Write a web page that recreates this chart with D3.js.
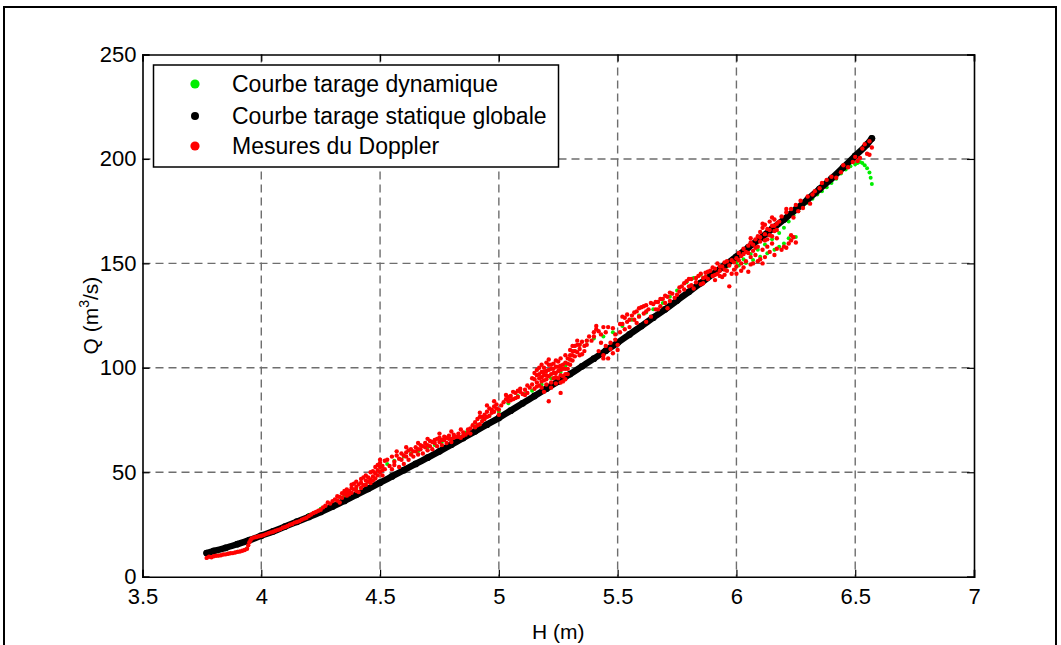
<!DOCTYPE html>
<html>
<head>
<meta charset="UTF-8" />
<script src="https://d3js.org/d3.v7.min.js"></script>
<title>Courbes de tarage</title>
<style>
  body { margin: 0; background: #fff; }
  svg { display: block; font-family: "Liberation Sans", Arial, sans-serif; }
</style>
</head>
<body>
<svg id="chart" width="1061" height="645"></svg>
<script>
// axis ticks
const xTicks = [3.5, 4, 4.5, 5, 5.5, 6, 6.5, 7];
const yTicks = [0, 50, 100, 150, 200, 250];

// legend labels (draw order: green, black, red)
const seriesNames = ["Courbe tarage dynamique", "Courbe tarage statique globale", "Mesures du Doppler"];
const seriesColors = ["#00ee00", "#000000", "#ff0000"];

// static rating curve [H, Q]
const statique = [
  [3.77,11.3],[3.80,12.3],[3.85,13.8],[3.90,15.6],[3.95,17.5],[4.00,19.6],[4.05,21.7],[4.10,24],
  [4.15,26.3],[4.20,28.6],[4.25,31],[4.30,33.6],[4.35,36.3],[4.40,39.2],[4.45,42.1],[4.50,45],
  [4.55,48],[4.60,51],[4.65,54],[4.70,57],[4.75,60],[4.80,63.2],[4.85,66.4],[4.90,69.6],
  [4.95,72.8],[5.00,76],[5.05,79.5],[5.10,83],[5.15,86.5],[5.20,90],[5.25,93.5],[5.30,97],
  [5.35,100.7],[5.40,104.4],[5.45,108.2],[5.50,112],[5.55,116],[5.60,120],[5.65,124],[5.70,128],
  [5.75,132.2],[5.80,136.4],[5.85,140.6],[5.90,144.8],[5.95,149],[6.00,153.2],[6.05,157.6],[6.10,162],
  [6.15,166.5],[6.20,171],[6.25,175.8],[6.30,180.6],[6.35,185.6],[6.40,190.6],[6.45,196],[6.50,201.5],
  [6.55,207],[6.57,209.8]
];

// dynamic rating curve [H, Q]
const dynamique = [
  [3.78,9.5],[3.82,10.2],[3.86,11],[3.90,12],[3.94,13.5],[3.96,18],[4.00,19.8],[4.05,21.6],
  [4.10,24],[4.15,26.5],[4.20,29.5],[4.25,32.5],[4.30,35.5],[4.35,39],[4.40,42],[4.45,45.5],
  [4.50,50.5],[4.53,54],[4.56,55.5],[4.60,57.5],[4.63,59],[4.66,60],[4.70,62],[4.73,63],
  [4.76,64.5],[4.80,66],[4.83,67.5],[4.86,69],[4.90,72],[4.93,74.5],[4.96,77],[5.00,79],
  [5.04,83],[5.08,86.5],[5.11,87.5],[5.14,89],[5.18,92],[5.22,95],[5.26,98],[5.28,101],
  [5.30,104],[5.32,108],[5.34,111],[5.37,113],[5.40,114],[5.44,115],[5.48,117],[5.52,120],
  [5.56,123],[5.59,125],[5.62,126.5],[5.65,128],[5.69,131],[5.72,134],[5.75,137],[5.79,141],
  [5.82,143],[5.85,144.5],[5.88,145.5],[5.92,147],[5.96,148.5],[6.00,150.5],[6.03,152],[6.06,154.5],
  [6.09,156.5],[6.12,159],[6.15,161.5],[6.18,164.5],[6.20,167],[6.22,170],[6.24,173],[6.26,175],
  [6.28,177],[6.30,179],[6.32,181],[6.34,183],[6.36,184.5],[6.38,186.5],[6.40,188.5],[6.42,190.5],
  [6.44,193],[6.46,195],[6.48,196.5],[6.50,197.5],[6.51,198],[6.52,198.5],[6.53,198],[6.54,197],
  [6.55,195.5],[6.56,193.5],[6.565,191],[6.57,188],
  [6.01,149],[6.04,150.2],[6.07,151.6],[6.10,153.2],[6.13,154.8],[6.16,156.5],[6.18,158],[6.20,159.5],
  [6.22,162],[6.24,162.5],[6.25,162.6]
];

// Doppler measurements [H, Q]
const doppler = [
  [3.77,9.0],[3.78,9.6],[3.79,9.3],[3.80,9.8],[3.81,10.0],[3.82,10.1],[3.83,10.3],[3.84,10.6],
  [3.85,10.7],[3.86,11.0],[3.87,11.2],[3.88,11.3],[3.89,11.6],[3.90,11.9],[3.91,12.1],[3.92,12.4],
  [3.93,12.8],[3.94,13.4],[3.945,15.0],[3.95,16.5],[3.955,17.6],[3.96,18.3],[3.97,18.8],[3.98,19.0],
  [3.99,19.4],[4.00,19.6],[4.01,19.9],[4.02,20.4],[4.03,20.8],[4.04,21.2],[4.05,21.5],[4.06,22.0],
  [4.07,22.4],[4.08,22.8],[4.09,23.4],[4.10,23.8],[4.11,24.3],[4.12,24.9],[4.13,25.2],[4.14,25.9],
  [4.15,26.2],[4.16,26.6],[4.17,27.3],[4.18,27.8],[4.19,28.2],[4.20,29.0],[4.21,29.8],[4.22,30.5],
  [4.23,31.0],[4.24,31.6],[4.25,32.0],[4.26,33.2],[4.27,34.0],[4.28,35.5],[4.29,35.0],[4.30,36.2],
  [4.31,37.0],[4.32,36.5],[4.33,38.2],[4.34,37.8],[4.35,39.5],[4.36,40.5],[4.36,38.8],[4.37,41.0],
  [4.38,40.2],[4.38,42.5],[4.39,41.8],[4.40,43.0],[4.40,41.0],[4.41,44.2],[4.42,42.5],[4.42,45.0],
  [4.43,43.8],[4.44,46.0],[4.44,44.0],[4.45,45.5],[4.45,47.5],[4.46,46.5],[4.46,44.8],[4.47,48.0],
  [4.47,46.0],[4.48,49.5],[4.48,47.0],[4.49,51.0],[4.49,48.5],[4.50,52.5],[4.50,54.5],[4.50,50.0],
  [4.51,53.0],[4.51,48.5],[4.52,55.5],[4.52,51.5],[4.33,35.5],[4.41,40.5],
  [4.32,38.5],[4.34,40],[4.36,41.8],[4.38,44],[4.40,45.5],[4.42,46.8],[4.44,48.5],[4.46,50],
  [4.48,52.5],[4.49,53.5],[4.50,56],[4.51,51],[4.47,50.5],[4.43,47.5],[4.39,44.5],[4.37,39.5],[4.35,41],
  [4.53,56.0],[4.54,53.0],[4.55,57.5],[4.55,51.5],[4.56,55.0],[4.57,58.0],[4.58,56.5],[4.58,52.5],
  [4.59,59.0],[4.60,58.0],[4.60,54.0],[4.61,59.5],[4.62,60.5],[4.62,56.0],[4.63,61.0],[4.64,60.0],
  [4.64,57.5],[4.65,62.0],[4.66,61.0],[4.66,58.5],[4.67,63.0],[4.68,62.5],[4.68,59.0],[4.69,64.0],
  [4.70,63.0],[4.70,60.5],[4.71,65.0],[4.72,64.5],[4.72,61.0],[4.73,65.5],[4.74,66.0],[4.74,62.5],
  [4.75,66.5],[4.76,65.5],[4.76,63.0],[4.77,67.0],[4.78,66.5],[4.78,64.0],[4.79,67.5],[4.80,66.0],
  [4.80,64.5],[4.81,68.0],[4.82,67.0],[4.83,68.5],[4.84,66.5],[4.85,69.0],[4.86,68.0],[4.87,70.5],
  [4.88,71.0],[4.88,68.5],
  [4.56,53.5],[4.59,56],[4.61,57.5],[4.63,58.5],[4.65,60],[4.67,61],[4.69,62],[4.71,62.5],
  [4.73,64],[4.75,64.5],[4.77,65.5],[4.79,66],[4.81,66.5],[4.83,67],[4.85,67.5],[4.87,69],
  [4.57,60],[4.61,62],[4.66,64],[4.70,66],[4.75,68.5],[4.80,69.5],[4.84,70.5],
  [4.89,72.5],[4.90,74.0],[4.90,71.5],[4.91,75.5],[4.92,73.0],[4.92,76.5],[4.93,74.5],[4.94,77.5],
  [4.94,75.5],[4.95,79.0],[4.96,77.0],[4.96,80.5],[4.97,78.5],[4.98,81.5],[4.98,79.0],[4.99,82.5],
  [5.00,80.0],[5.00,77.5],
  [4.91,72.5],[4.93,76.5],[4.95,76.5],[4.97,80],[4.99,80.5],[4.95,82],[4.98,84],[4.92,78.5],
  [5.02,83.5],[5.03,85.0],[5.04,84.0],[5.05,86.5],[5.06,85.0],[5.07,88.0],[5.08,86.0],[5.09,88.5],
  [5.10,87.5],[5.11,89.5],[5.12,88.0],[5.13,90.5],[5.14,92.0],[5.15,90.0],[5.15,94.5],[5.16,93.0],
  [5.16,96.5],[5.17,91.5],[5.17,95.0],[5.18,98.0],[5.18,93.5],[5.19,96.5],[5.19,100.0],[5.20,94.5],
  [5.20,98.5],[5.21,101.5],[5.21,96.0],[5.22,99.5],[5.22,93.0],[5.23,97.5],[5.23,102.0],[5.24,100.5],
  [5.24,95.5],[5.25,98.5],[5.25,103.0],[5.26,101.0],[5.26,96.5],[5.27,99.5],[5.27,93.5],[5.28,102.5],
  [5.28,97.0],[5.29,104.5],[5.29,99.5],[5.30,106.0],[5.30,101.5],[5.31,108.0],[5.31,103.5],[5.32,110.5],
  [5.32,105.5],[5.33,107.5],[5.33,111.0],[5.34,109.0],[5.35,112.5],[5.35,106.5],[5.36,110.5],[5.37,113.0],
  [5.38,115.0],[5.40,117.0],[5.41,118.5],[5.43,116.0],[5.44,119.5],[5.21,84.0],[5.26,88.0],[5.19,88.5],
  [5.01,82],[5.03,87],[5.05,84.5],[5.07,85.5],[5.09,90],[5.11,87],[5.12,91.5],[5.06,88.5],[5.08,89],[5.04,86],
  [5.14,95],[5.15,97.5],[5.16,99],[5.17,97],[5.17,100],[5.18,95.5],[5.18,101.5],[5.19,94],
  [5.19,98],[5.20,92],[5.20,96.5],[5.20,102.5],[5.21,99],[5.21,104],[5.22,97],[5.22,101.5],
  [5.23,95],[5.23,99.5],[5.24,92.5],[5.24,97.5],[5.24,103.5],[5.25,95],[5.25,100.5],[5.26,93],
  [5.26,99],[5.26,104.5],[5.27,96],[5.27,101.5],[5.28,94.5],[5.28,99.5],[5.28,106],[5.29,97],
  [5.29,102],[5.30,104],[5.30,108.5],[5.31,106],[5.31,110.5],[5.32,108],[5.33,113],[5.34,111],
  [5.34,106],[5.36,108],[5.37,111],[5.16,91],[5.18,90.5],[5.22,90.5],
  [5.42,108.0],[5.44,106.0],[5.45,110.5],[5.46,104.5],[5.47,112.0],[5.48,107.0],[5.49,113.5],[5.50,111.0],
  [5.48,119.0],[5.51,117.0],
  [5.39,113],[5.40,115],[5.42,117.5],[5.45,117],[5.46,119.5],[5.43,112],[5.47,109],[5.50,108.5],
  [5.49,116],[5.41,120],[5.44,104.5],
  [5.52,121.0],[5.53,118.5],[5.53,124.0],[5.54,122.0],[5.55,119.5],[5.56,125.0],[5.57,123.0],[5.58,127.0],
  [5.59,124.5],[5.60,129.0],[5.61,126.0],[5.62,130.0],[5.63,128.0],[5.64,124.5],[5.65,130.5],[5.66,128.0],
  [5.67,131.5],[5.68,129.5],[5.69,133.0],[5.70,131.0],[5.71,134.0],[5.72,132.0],[5.73,135.5],[5.74,133.5],
  [5.76,136.5],[5.77,139.0],[5.78,137.5],[5.79,141.5],[5.80,139.0],[5.81,142.5],[5.82,138.0],[5.83,141.0],
  [5.84,144.0],[5.85,140.0],[5.86,143.0],[5.87,145.5],[5.88,142.5],[5.89,146.5],[5.90,144.0],[5.91,147.5],
  [5.92,145.0],[5.93,148.5],
  [5.51,121],[5.52,124.5],[5.54,125.5],[5.55,123],[5.57,126.5],[5.58,121.5],[5.59,128.5],[5.61,129.5],
  [5.62,127],[5.64,131],[5.66,131.5],[5.67,128],[5.68,133],[5.70,134.5],[5.72,136],[5.75,135],
  [5.76,138.5],[5.78,140.5],[5.80,142.5],[5.81,139.5],[5.83,143],[5.85,145],[5.86,140.5],[5.87,143.5],
  [5.88,146],[5.62,122],[5.71,128.5],
  [5.90,148.0],[5.91,144.5],[5.92,150.0],[5.93,146.5],[5.94,148.5],[5.94,143.5],[5.95,150.5],[5.96,146.5],
  [5.97,149.0],[5.97,139.0],[5.98,151.5],[5.99,147.0],[6.00,152.5],[6.00,148.5],[6.01,155.0],[6.02,150.0],
  [6.02,153.5],[6.03,157.0],[6.04,151.0],[6.04,155.5],[6.05,158.5],[6.06,153.0],[6.06,160.0],[6.07,156.0],
  [6.08,161.5],[6.08,154.0],[6.09,163.0],[6.09,158.0],[6.10,165.0],[6.10,160.5],[6.11,167.0],[6.11,156.5],
  [6.12,164.0],[6.12,168.5],[6.13,161.5],[6.13,166.5],[6.14,170.0],[6.14,163.5],[6.15,168.0],[6.15,159.5],
  [6.16,171.0],[6.16,165.5],[6.17,169.0],[6.17,162.0],
  [5.91,142],[5.93,144],[5.95,147],[5.96,151],[5.98,145],[5.99,150.5],[6.01,151.5],[6.03,154.5],
  [6.05,155],[6.07,159],[6.08,157.5],[6.10,162.5],[6.12,161],[6.14,166],[6.16,168],[6.13,158],
  [6.15,163],[6.17,166],[6.18,170],[6.02,146.5],[6.07,150],[6.10,152],[6.16,154],[6.19,156.5],
  [6.21,157.5],[6.23,161],[6.00,145],[5.95,144.5],[6.06,162],[6.11,169],[6.15,172],
  [6.03,148.0],[6.06,149.5],[6.09,151.0],[6.12,153.0],[6.14,155.5],[6.17,157.0],[6.20,158.0],[6.22,159.5],
  [6.24,162.5],[6.23,163.5],[6.25,160.0],[6.05,146.0],[6.11,150.0],
  [6.19,172.5],[6.21,174.5],[6.23,176.0],[6.24,172.0],[6.25,178.0],[6.26,175.0],[6.27,180.0],[6.28,176.5],
  [6.30,182.0],[6.31,178.6],[6.33,184.5],[6.35,186.0],[6.36,188.5],[6.38,190.0],[6.40,191.5],[6.42,191.0],
  [6.44,193.6],[6.45,197.0],[6.47,196.0],[6.49,198.5],[6.50,201.0],[6.51,199.0],[6.52,200.5],[6.53,205.0],
  [6.54,207.0],[6.55,202.5],[6.56,208.5],[6.57,205.5],[6.56,202.0],[6.21,176.0],[6.32,183.0]
];

const svg = d3.select("#chart");

// outer figure frame
svg.append("rect").attr("x", 4).attr("y", 7).attr("width", 1052).attr("height", 660)
  .attr("fill", "none").attr("stroke", "#000").attr("stroke-width", 2);

const x = d3.scaleLinear().domain([3.5, 7]).range([142.5, 974]);
const y = d3.scaleLinear().domain([0, 250]).range([576.7, 54.5]);

// grid
const grid = svg.append("g").attr("stroke", "#6e6e6e").attr("stroke-width", 1.4)
  .attr("stroke-dasharray", "8,5");
grid.selectAll(".gx").data(xTicks.slice(1, -1)).join("line")
  .attr("x1", d => x(d)).attr("x2", d => x(d)).attr("y1", y(250)).attr("y2", y(0));
grid.selectAll(".gy").data(yTicks.slice(1, -1)).join("line")
  .attr("y1", d => y(d)).attr("y2", d => y(d)).attr("x1", x(3.5)).attr("x2", x(7));

// series
svg.append("g").selectAll("circle").data(dynamique).join("circle")
  .attr("cx", d => x(d[0])).attr("cy", d => y(d[1])).attr("r", 2)
  .attr("fill", seriesColors[0]);

const line = d3.line().x(d => x(d[0])).y(d => y(d[1])).curve(d3.curveMonotoneX);
svg.append("path").datum(statique).attr("d", line)
  .attr("fill", "none").attr("stroke", "#000").attr("stroke-width", 6.5).attr("stroke-linecap", "round");
svg.append("g").selectAll("circle").data(statique).join("circle")
  .attr("cx", d => x(d[0])).attr("cy", d => y(d[1])).attr("r", 3.4).attr("fill", "#000");

svg.append("g").selectAll("circle").data(doppler).join("circle")
  .attr("cx", d => x(d[0])).attr("cy", d => y(d[1])).attr("r", 2.2)
  .attr("fill", seriesColors[2]);

// axes
const fontSize = "22px";
const axB = svg.append("g").attr("transform", `translate(0,${y(0)})`)
  .call(d3.axisBottom(x).tickValues(xTicks).tickSize(-7).tickPadding(12).tickFormat(d3.format("")));
const axL = svg.append("g").attr("transform", `translate(${x(3.5)},0)`)
  .call(d3.axisLeft(y).tickValues(yTicks).tickSize(-7).tickPadding(6));
const axT = svg.append("g").attr("transform", `translate(0,${y(250)})`)
  .call(d3.axisTop(x).tickValues(xTicks).tickSize(-7).tickFormat(""));
const axR = svg.append("g").attr("transform", `translate(${x(7)},0)`)
  .call(d3.axisRight(y).tickValues(yTicks).tickSize(-7).tickFormat(""));
[axB, axL, axT, axR].forEach(a => {
  a.select(".domain").attr("stroke", "#000").attr("stroke-width", 1.6);
  a.selectAll(".tick line").attr("stroke", "#000").attr("stroke-width", 1.2);
  a.selectAll("text").attr("font-size", fontSize).attr("fill", "#000")
    .attr("font-family", "Liberation Sans, Arial, sans-serif");
});

// axis labels
svg.append("text").attr("x", x(5.25)).attr("y", 639).attr("text-anchor", "middle")
  .attr("font-size", "21px").text("H (m)");
const ql = svg.append("text").attr("transform", `translate(98,${y(125)}) rotate(-90)`)
  .attr("text-anchor", "middle").attr("font-size", "21px");
ql.append("tspan").text("Q (m");
ql.append("tspan").attr("font-size", "14px").attr("dy", -9).text("3");
ql.append("tspan").attr("dy", 9).text("/s)");

// legend
const lg = svg.append("g");
lg.append("rect").attr("x", 153.5).attr("y", 65).attr("width", 405).attr("height", 102)
  .attr("fill", "#fff").attr("stroke", "#000").attr("stroke-width", 1.5);
const rows = lg.selectAll(".row").data(seriesNames).join("g")
  .attr("transform", (d, i) => `translate(0,${[84, 116, 146][i]})`);
rows.append("circle").attr("cx", 195).attr("cy", 0).attr("r", (d, i) => i === 1 ? 4 : 4.6)
  .attr("fill", (d, i) => seriesColors[i]);
rows.append("text").attr("x", 232).attr("y", 8).attr("font-size", "23px").text(d => d);
</script>
</body>
</html>
